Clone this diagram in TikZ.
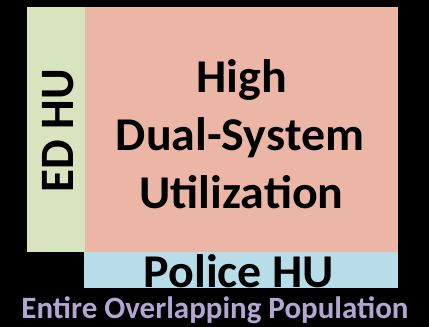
\documentclass[tikz,border=0pt]{standalone}
\usepackage{fontspec}
\setmainfont{Carlito}
\usetikzlibrary{positioning}
\definecolor{edgreen}{HTML}{D7E4BD}
\definecolor{dualred}{HTML}{EBB6A6}
\definecolor{policeblue}{HTML}{B7DEE8}
\definecolor{popviolet}{HTML}{B4A5D3}

\begin{document}
\begin{tikzpicture}[x=1pt,y=-1pt,
	area_node/.style={draw=none,inner sep=0pt,outer sep=0pt,anchor=north west},
	big_text/.style={font=\bfseries\fontsize{47}{58}\selectfont,inner sep=0pt,text=black,xscale=1.02}]
	
	\fill[black] (0,0) rectangle (429,327);
	
	\node[area_node,fill=edgreen,minimum width=58pt,minimum height=245pt] (ed) at (27,7) {};
	\node[area_node,fill=dualred,minimum width=313pt,minimum height=245pt] (dual) at (85,7) {};
	\node[area_node,fill=policeblue,minimum width=314pt,minimum height=36pt] (police) at (84,252) {};
	
	\node[big_text,anchor=base] (high) at (241.5,92) {High};
	\node[big_text,anchor=base] (dualsys) at (240,150) {Dual-System};
	\node[big_text,anchor=base] (util) at (241.5,208) {Utilization};
	\node[big_text,anchor=base,rotate=90] (edhu) at (74,131) {ED HU};
	\node[big_text,anchor=base] (policehu) at (239,287.5) {Police HU};
	\node[font=\bfseries\fontsize{31}{35}\selectfont,text=popviolet,inner sep=0pt,anchor=base] (pop) at (215,318) {Entire Overlapping Population};
\end{tikzpicture}
\end{document}
